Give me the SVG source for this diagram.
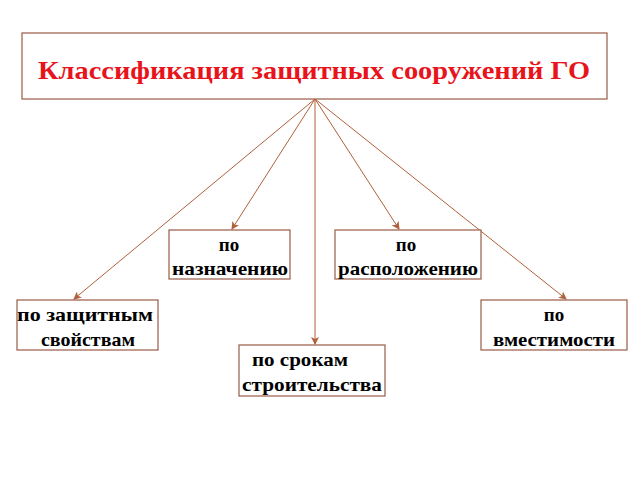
<svg xmlns="http://www.w3.org/2000/svg" width="640" height="480" viewBox="0 0 640 480">
<style>
.box{fill:#fff;stroke:#9a5a46;stroke-width:1.2}
.t{font-family:"Liberation Serif",serif;font-weight:bold;font-size:19px;fill:#000;text-anchor:middle}
.c{stroke:#b0603a;stroke-width:1;fill:none;marker-end:url(#a)}
</style>
<defs><marker id="a" markerWidth="8" markerHeight="8" refX="7" refY="4" orient="auto" markerUnits="userSpaceOnUse"><path d="M0,0 L8,4 L0,8 L2,4 Z" fill="#b0603a"/></marker></defs>
<rect width="640" height="480" fill="#fff"/>
<g id="title"><rect class="box" x="22" y="33" width="585" height="66"/>
<text x="314" y="79" textLength="552" lengthAdjust="spacingAndGlyphs" style="font-family:'Liberation Serif',serif;font-weight:bold;font-size:25px;fill:#e8141c;text-anchor:middle">Классификация защитных сооружений ГО</text></g>
<g id="connectors">
<line class="c" x1="315" y1="99" x2="232" y2="229"/>
<line class="c" x1="315" y1="99" x2="399" y2="229"/>
<line class="c" x1="315" y1="99" x2="74" y2="299"/>
<line class="c" x1="315" y1="99" x2="566" y2="299"/>
<line class="c" x1="315" y1="99" x2="315" y2="344"/>
</g>
<g id="n1"><rect class="box" x="169" y="230" width="121" height="49"/><text class="t" x="229" y="251">по</text><text class="t" x="230" y="275" textLength="116" lengthAdjust="spacingAndGlyphs">назначению</text></g>
<g id="n2"><rect class="box" x="335" y="230" width="146" height="49"/><text class="t" x="406" y="251">по</text><text class="t" x="408" y="275" textLength="140" lengthAdjust="spacingAndGlyphs">расположению</text></g>
<g id="n3"><rect class="box" x="17" y="300" width="141" height="50"/><text class="t" x="85" y="321" textLength="136" lengthAdjust="spacingAndGlyphs">по защитным</text><text class="t" x="88" y="346" textLength="94" lengthAdjust="spacingAndGlyphs">свойствам</text></g>
<g id="n4"><rect class="box" x="481" y="300" width="146" height="50"/><text class="t" x="554" y="321">по</text><text class="t" x="554" y="346" textLength="122" lengthAdjust="spacingAndGlyphs">вместимости</text></g>
<g id="n5"><rect class="box" x="239" y="345" width="146" height="51"/><text class="t" x="300" y="366" textLength="96" lengthAdjust="spacingAndGlyphs">по срокам</text><text class="t" x="312" y="391" textLength="140" lengthAdjust="spacingAndGlyphs">строительства</text></g>
</svg>
